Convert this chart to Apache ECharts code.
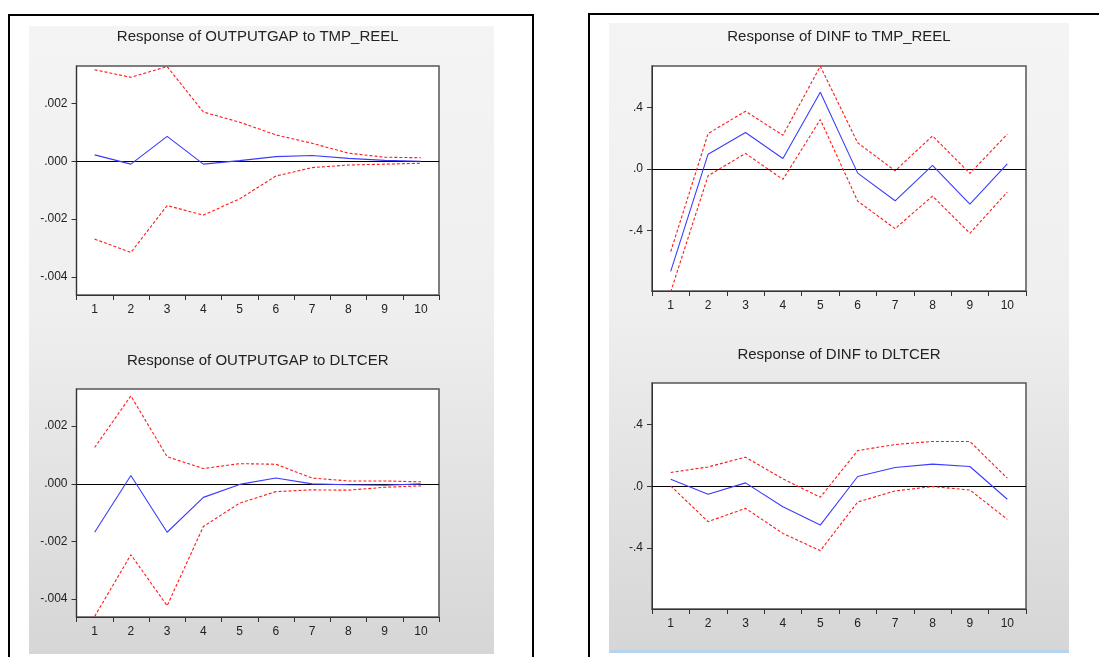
<!DOCTYPE html>
<html>
<head>
<meta charset="utf-8">
<script src="https://cdn.jsdelivr.net/npm/echarts@6/dist/echarts.min.js"></script>
<style>html,body{margin:0;padding:0;background:#fff;}#c{width:1099px;height:657px;}</style>
</head>
<body>
<div id="c"></div>
<script>
// ---- data ----
const periods = ['1','2','3','4','5','6','7','8','9','10'];

const titles = ['Response of OUTPUTGAP to TMP_REEL','Response of OUTPUTGAP to DLTCER','Response of DINF to TMP_REEL','Response of DINF to DLTCER'];

const ogTmpMid = [0.00022,-0.0001,0.00086,-0.0001,0.00002,0.00016,0.0002,0.0001,0.00003,0.0];
const ogTmpUp  = [0.00316,0.0029,0.00327,0.0017,0.00135,0.00091,0.00062,0.00028,0.00014,0.00012];
const ogTmpLo  = [-0.00269,-0.00315,-0.00153,-0.00186,-0.0013,-0.00051,-0.00022,-0.00013,-0.0001,-0.00007];

const ogDltMid = [-0.00168,0.00029,-0.00168,-0.00047,-0.00002,0.0002,0.0,-0.00003,-0.00005,0.0];
const ogDltUp  = [0.00126,0.00305,0.00094,0.00053,0.0007,0.00068,0.0002,0.0001,0.0001,0.00007];
const ogDltLo  = [-0.0046,-0.00246,-0.00423,-0.00148,-0.00067,-0.00027,-0.00021,-0.00022,-0.00012,-0.00007];

const dinfTmpMid = [-0.666,0.095,0.236,0.067,0.497,-0.028,-0.208,0.022,-0.229,0.032];
const dinfTmpUp  = [-0.538,0.229,0.374,0.218,0.666,0.169,-0.013,0.214,-0.03,0.225];
const dinfTmpLo  = [-0.80,-0.045,0.1,-0.069,0.32,-0.21,-0.389,-0.177,-0.419,-0.151];

const dinfDltMid = [0.045,-0.052,0.022,-0.132,-0.251,0.063,0.121,0.143,0.128,-0.084];
const dinfDltUp  = [0.089,0.125,0.188,0.048,-0.071,0.231,0.27,0.29,0.29,0.052];
const dinfDltLo  = [0.002,-0.229,-0.143,-0.305,-0.417,-0.102,-0.03,-0.002,-0.024,-0.214];

const ogTickValues = [-0.004,-0.002,0,0.002];
const ogTickLabels = ['-.004','-.002','.000','.002'];
const dinfTickValues = [-0.4,0,0.4];
const dinfTickLabels = ['-.4','.0','.4'];

// ---- layout ----
const FONT = "'Liberation Sans', Arial, sans-serif";
const grids = [
  {left:76.5, top:66, width:362.5, height:229},
  {left:76.5, top:389, width:362.5, height:228},
  {left:652, top:66, width:374, height:225},
  {left:652, top:383, width:374, height:226}
];
const titleY = [37, 361, 37, 355];
const ranges = [
  {min:-0.00462, max:0.00329, ticks:ogTickValues, labels:ogTickLabels},
  {min:-0.00462, max:0.00329, ticks:ogTickValues, labels:ogTickLabels},
  {min:-0.794, max:0.668, ticks:dinfTickValues, labels:dinfTickLabels},
  {min:-0.794, max:0.668, ticks:dinfTickValues, labels:dinfTickLabels}
];
const seriesSets = [
  [ogTmpLo, ogTmpMid, ogTmpUp],
  [ogDltLo, ogDltMid, ogDltUp],
  [dinfTmpLo, dinfTmpMid, dinfTmpUp],
  [dinfDltLo, dinfDltMid, dinfDltUp]
];

const chart = echarts.init(document.getElementById('c'), null, {renderer:'canvas'});

const option = {
  animation: false,
  backgroundColor: '#ffffff',
  textStyle: {fontFamily: FONT},
  graphic: [
    {type:'rect', z:-10, shape:{x:29, y:26, width:465, height:628},
      style:{fill:new echarts.graphic.LinearGradient(0,0,0,1,[{offset:0,color:'#f4f4f4'},{offset:0.45,color:'#efefef'},{offset:1,color:'#d6d6d6'}])}},
    {type:'rect', z:-10, shape:{x:609, y:23, width:460, height:627},
      style:{fill:new echarts.graphic.LinearGradient(0,0,0,1,[{offset:0,color:'#f4f4f4'},{offset:0.45,color:'#efefef'},{offset:1,color:'#d6d6d6'}])}},
    {type:'rect', z:-10, shape:{x:609, y:650, width:460, height:3}, style:{fill:'#b7d3ee'}},
    {type:'polyline', shape:{points:[[9,657],[9,15],[533,15],[533,657]]}, style:{stroke:'#000', lineWidth:2, fill:null}},
    {type:'polyline', shape:{points:[[589,657],[589,14],[1099,14]]}, style:{stroke:'#000', lineWidth:2, fill:null}}
  ],
  title: grids.map((g,i)=>({
    text: titles[i],
    left: g.left + g.width/2,
    top: titleY[i] - 8,
    textAlign: 'center',
    padding: 0,
    textStyle: {fontFamily: FONT, fontSize: 15, fontWeight: 'normal', color: '#222'}
  })),
  grid: grids.map(g=>({left:g.left, top:g.top, width:g.width, height:g.height, show:true, backgroundColor:'#ffffff', borderColor:'#555', borderWidth:1.5, containLabel:false})),
  xAxis: grids.map((g,i)=>({
    type:'category', gridIndex:i, data:periods, boundaryGap:true, position:'bottom',
    axisLine:{show:true, onZero:false, lineStyle:{color:'#333', width:1}},
    axisTick:{show:true, inside:false, length:5, alignWithLabel:false, lineStyle:{color:'#333'}},
    axisLabel:{show:true, margin:9, fontSize:12, color:'#222', fontFamily:FONT, interval:0},
    splitLine:{show:false}
  })),
  yAxis: ranges.map((r,i)=>({
    type:'value', gridIndex:i, min:r.min, max:r.max, position:'left',
    axisLine:{show:true, onZero:false, lineStyle:{color:'#333', width:1}},
    axisTick:{show:true, inside:false, length:5, customValues:r.ticks, lineStyle:{color:'#333'}},
    axisLabel:{show:true, margin:9, fontSize:12, color:'#222', fontFamily:FONT, customValues:r.ticks,
      formatter:(v)=>{const k=r.ticks.findIndex(t=>Math.abs(t-v)<1e-9); return k>=0 ? r.labels[k] : '';}},
    splitLine:{show:false}
  })),
  series: []
};

seriesSets.forEach((set,i)=>{
  const [lo, mid, up] = set;
  option.series.push({type:'line', xAxisIndex:i, yAxisIndex:i, data:lo, symbol:'none', lineStyle:{color:'#ff1a1a', width:1.1, type:[3,2]}, z:3});
  option.series.push({type:'line', xAxisIndex:i, yAxisIndex:i, data:up, symbol:'none', lineStyle:{color:'#ff1a1a', width:1.1, type:[3,2]}, z:3});
  option.series.push({type:'line', xAxisIndex:i, yAxisIndex:i, data:mid, symbol:'none', lineStyle:{color:'#3c3cff', width:1.1}, z:4,
    markLine:{silent:true, symbol:['none','none'], label:{show:false}, lineStyle:{color:'#000', width:1, type:'solid'}, data:[{yAxis:0}], z:2}});
});

chart.setOption(option);
</script>
</body>
</html>
